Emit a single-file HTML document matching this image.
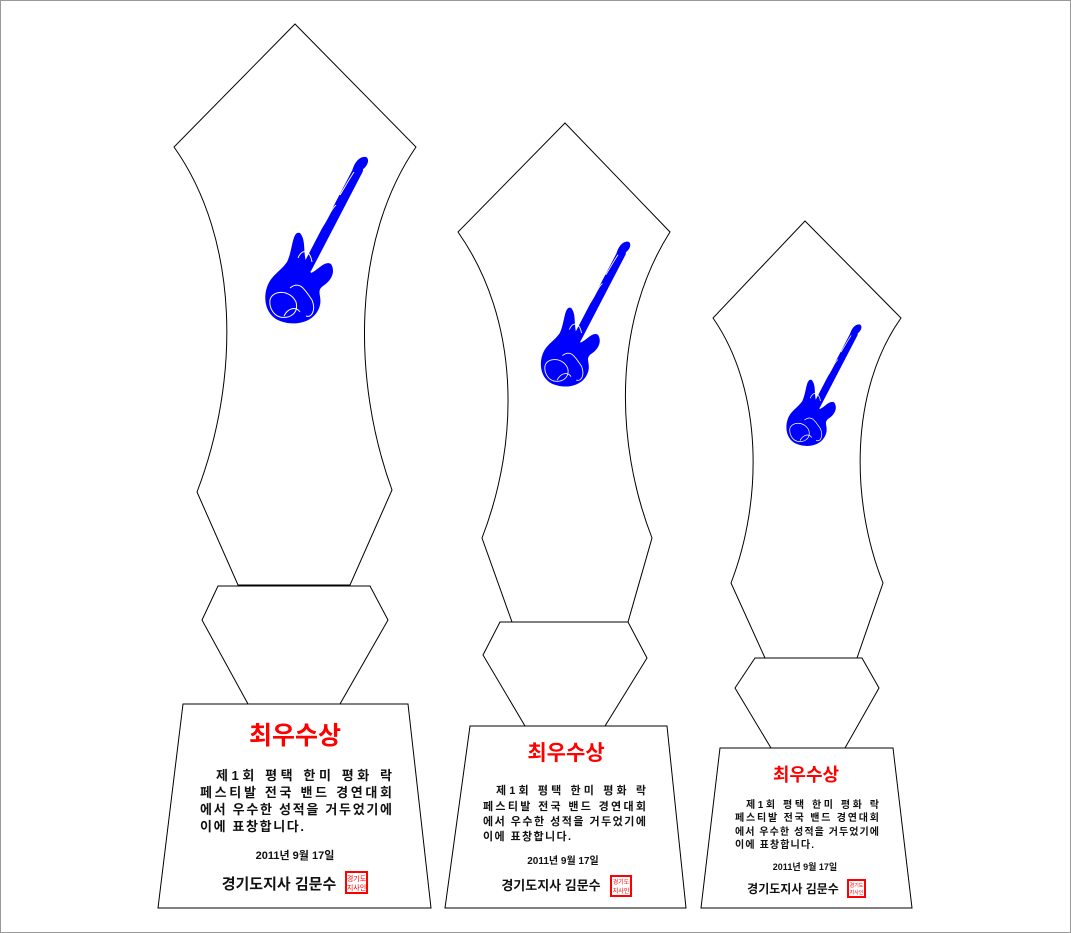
<!DOCTYPE html>
<html><head><meta charset="utf-8"><style>
html,body{margin:0;padding:0;background:#fff;width:1071px;height:933px;overflow:hidden}
svg{display:block}
text{font-family:"Liberation Sans","Noto Sans CJK KR","NanumGothic",sans-serif}
.t{fill:#f00;font-weight:bold;text-anchor:middle}
.b{fill:#111;font-weight:bold}
</style></head><body>
<svg width="1071" height="933" viewBox="0 0 1071 933" xmlns="http://www.w3.org/2000/svg">
<defs>
<g id="gtr">
 <line x1="307" y1="268" x2="358" y2="170" stroke="#0000ff" stroke-width="10" stroke-linecap="round"/>
 <path d="M352,172 C354,162 360,156 366,157 C370,159 368,166 362,170 L356,178 Z" fill="#0000ff"/>
 <path d="M272,278 C262,290 262,314 280,321 C296,327 316,322 320,305 C322,296 316,291 323,286 C331,281 336,272 331,264 C325,260 318,270 311,273 L306,262 C303,250 306,240 300,233 C292,230 293,250 287,262 C283,268 277,272 272,278 Z" fill="#0000ff"/>
 <path d="M270,300 C272,290 290,289 296,302 C299,313 290,319 280,317 C273,315 269,307 270,300 Z M284,316 C288,308 296,306 300,312 M290,288 C300,280 305,290 312,300 C316,310 312,318 306,316 M298,258 C302,248 310,250 312,262 M320,230 C328,220 330,210 336,205 M340,195 C346,185 350,178 354,172" fill="none" stroke="#fff" stroke-width="1"/>
</g>
</defs>
<rect x="0.5" y="0.5" width="1070" height="932" fill="#fff" stroke="#999"/>
<g fill="#fff" stroke="#000" stroke-width="1">
<path d="M295,24 L416,147 C352,240 352,380 392,490 L350,585 L238,585 L197,492 C240,380 240,240 174,147 Z"/>
<path d="M218,586 L370,586 L388,620 L340,704 L248,704 L202,620 Z"/>
<path d="M183,704 L408,704 L431,908 L158,908 Z"/>
<path d="M565,123 L670,232 C614,320 614,440 652,538 L628,622 L512,622 L482,538 C520,440 520,320 458,232 Z"/>
<path d="M500,622 L628,622 L647,658 L605,726 L525,726 L483,655 Z"/>
<path d="M470,726 L667,726 L686,908 L445,908 Z"/>
<path d="M805,221 L901,318 C850,390 850,500 883,583 L857,658 L765,658 L731,583 C763,500 763,390 713,318 Z"/>
<path d="M755,658 L862,658 L879,688 L845,748 L771,748 L735,688 Z"/>
<path d="M720,748 L893,748 L912,908 L701,908 Z"/>
</g>
<use href="#gtr"/>
<use href="#gtr" transform="translate(538,240) scale(0.87) translate(-262,-155)"/>
<use href="#gtr" transform="translate(784,323) scale(0.73) translate(-262,-155)"/>

<text class="t" x="295" y="744" font-size="25">최우수상</text>
<g class="b" font-size="13">
<text x="216" y="780" textLength="176" lengthAdjust="spacing">제1회 평택 한미 평화 락</text>
<text x="200" y="797" textLength="192" lengthAdjust="spacing">페스티발 전국 밴드 경연대회</text>
<text x="200" y="814" textLength="192" lengthAdjust="spacing">에서 우수한 성적을 거두었기에</text>
<text x="200" y="831" textLength="104" lengthAdjust="spacing">이에 표창합니다.</text>
</g>
<text class="b" x="295" y="859" font-size="11" text-anchor="middle">2011년  9월 17일</text>
<text class="b" x="279" y="889" font-size="15" text-anchor="middle">경기도지사 김문수</text>
<rect x="346" y="872" width="21" height="21" fill="#fff" stroke="#f00" stroke-width="2"/>
<text x="356.5" y="881" font-size="7" fill="#f00" text-anchor="middle">경기도</text>
<text x="356.5" y="890" font-size="7" fill="#f00" text-anchor="middle">지사인</text>

<text class="t" x="566" y="760" font-size="21">최우수상</text>
<g class="b" font-size="11">
<text x="496" y="794" textLength="150" lengthAdjust="spacing">제1회 평택 한미 평화 락</text>
<text x="483" y="810" textLength="163" lengthAdjust="spacing">페스티발 전국 밴드 경연대회</text>
<text x="483" y="825" textLength="163" lengthAdjust="spacing">에서 우수한 성적을 거두었기에</text>
<text x="483" y="840" textLength="88" lengthAdjust="spacing">이에 표창합니다.</text>
</g>
<text class="b" x="563" y="864" font-size="10" text-anchor="middle">2011년  9월 17일</text>
<text class="b" x="551" y="890" font-size="13" text-anchor="middle">경기도지사 김문수</text>
<rect x="611" y="876" width="20" height="20" fill="#fff" stroke="#f00" stroke-width="2"/>
<text x="621" y="884" font-size="6" fill="#f00" text-anchor="middle">경기도</text>
<text x="621" y="893" font-size="6" fill="#f00" text-anchor="middle">지사인</text>

<text class="t" x="806" y="781" font-size="18">최우수상</text>
<g class="b" font-size="10">
<text x="746" y="808" textLength="133" lengthAdjust="spacing">제1회 평택 한미 평화 락</text>
<text x="735" y="821" textLength="144" lengthAdjust="spacing">페스티발 전국 밴드 경연대회</text>
<text x="735" y="835" textLength="144" lengthAdjust="spacing">에서 우수한 성적을 거두었기에</text>
<text x="735" y="848" textLength="79" lengthAdjust="spacing">이에 표창합니다.</text>
</g>
<text class="b" x="805" y="870" font-size="9" text-anchor="middle">2011년  9월 17일</text>
<text class="b" x="793" y="893" font-size="12" text-anchor="middle">경기도지사 김문수</text>
<rect x="848" y="880" width="17" height="17" fill="#fff" stroke="#f00" stroke-width="2"/>
<text x="856.5" y="887" font-size="5" fill="#f00" text-anchor="middle">경기도</text>
<text x="856.5" y="894" font-size="5" fill="#f00" text-anchor="middle">지사인</text>
</svg>
</body></html>
